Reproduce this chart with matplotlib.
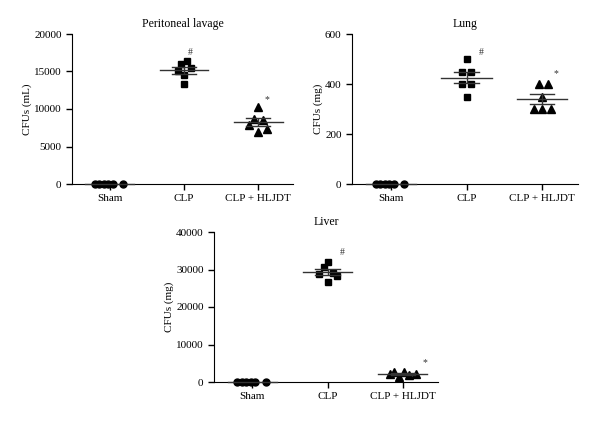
import numpy as np
import matplotlib
matplotlib.use("Agg")
import matplotlib.pyplot as plt

plt.rcParams["font.family"] = ["Liberation Serif", "DejaVu Serif"]
plt.rcParams["font.size"] = 8

groups = ["Sham", "CLP", "CLP + HLJDT"]

# values
peritoneal_sham = [0, 0, 0, 0, 0, 0]
peritoneal_clp = [16000, 16450, 15000, 15450, 14550, 13350]
peritoneal_hljdt = [10300, 8650, 8550, 7850, 6950, 7400]

lung_sham = [0, 0, 0, 0, 0, 0]
lung_clp = [500, 450, 450, 400, 400, 350]
lung_hljdt = [400, 400, 350, 300, 300, 300]

liver_sham = [0, 0, 0, 0, 0, 0]
liver_clp = [30800, 32000, 28900, 29200, 28400, 26700]
liver_hljdt = [2650, 2650, 2200, 2000, 2200, 1350]

# horizontal spread of points within a group
spread_sham = [-0.2, -0.14, -0.08, -0.02, 0.04, 0.18]
spread_p_clp = [-0.04, 0.04, -0.08, 0.1, 0.0, 0.0]
spread_p_hl = [0.0, -0.06, 0.07, -0.12, 0.0, 0.12]
spread_l_clp = [0.0, -0.06, 0.06, -0.06, 0.06, 0.0]
spread_l_hl = [-0.05, 0.07, 0.0, -0.11, 0.0, 0.12]
spread_v_clp = [-0.05, 0.0, -0.11, 0.07, 0.12, 0.0]
spread_v_hl = [-0.11, 0.02, -0.17, 0.09, 0.18, -0.05]


def panel(ax, title, ylabel, data, spreads, ymax, step, marks):
    markers = ["o", "s", "^"]
    sizes = [5.0, 4.6, 5.2]
    for i, (vals, dx, m, ms) in enumerate(zip(data, spreads, markers, sizes)):
        vals = np.asarray(vals, float)
        ax.plot(i + np.asarray(dx), vals, ls="none", marker=m, ms=ms,
                color="black", clip_on=False, zorder=3)
        mean = vals.mean()
        sem = vals.std(ddof=1) / np.sqrt(len(vals))
        ax.plot([i - 0.33, i + 0.33], [mean, mean], color="#333333", lw=1,
                zorder=4, clip_on=False)
        if sem > 0:
            ax.errorbar(i, mean, yerr=sem, color="#333333", lw=1, capsize=0,
                        zorder=4)
            for y in (mean - sem, mean + sem):
                ax.plot([i - 0.16, i + 0.16], [y, y], color="#333333", lw=1,
                        zorder=4)
    for i, dx, y, s in marks:
        ax.text(i + dx, y, s, ha="center", va="center", fontsize=7,
                color="#333333")
    ax.set_xlim(-0.51, 2.47)
    ax.set_ylim(0, ymax)
    ax.set_yticks(np.arange(0, ymax + 1, step))
    ax.set_xticks(range(3))
    ax.set_xticklabels(groups)
    ax.set_title(title, fontsize=8.5, pad=5)
    ax.set_ylabel(ylabel, labelpad=1.5)
    for side in ("top", "right"):
        ax.spines[side].set_visible(False)
    ax.tick_params(direction="out", length=4, width=1)


fig = plt.figure(figsize=(6, 4.24), dpi=100)

ax1 = fig.add_axes([72 / 600, 1 - 184 / 424, 221 / 600, 150 / 424])
panel(ax1, "Peritoneal lavage", "CFUs (mL)",
      [peritoneal_sham, peritoneal_clp, peritoneal_hljdt],
      [spread_sham, spread_p_clp, spread_p_hl], 20000, 5000,
      [(1, 0.08, 17500, "#"), (2, 0.12, 11200, "*")])

ax2 = fig.add_axes([352 / 600, 1 - 184 / 424, 226 / 600, 150 / 424])
panel(ax2, "Lung", "CFUs (mg)",
      [lung_sham, lung_clp, lung_hljdt],
      [spread_sham, spread_l_clp, spread_l_hl], 600, 200,
      [(1, 0.2, 525, "#"), (2, 0.18, 442, "*")])

ax3 = fig.add_axes([214 / 600, 1 - 382 / 424, 224 / 600, 150 / 424])
panel(ax3, "Liver", "CFUs (mg)",
      [liver_sham, liver_clp, liver_hljdt],
      [spread_sham, spread_v_clp, spread_v_hl], 40000, 10000,
      [(1, 0.19, 34500, "#"), (2, 0.29, 5300, "*")])

fig.savefig("out.png", dpi=100)
